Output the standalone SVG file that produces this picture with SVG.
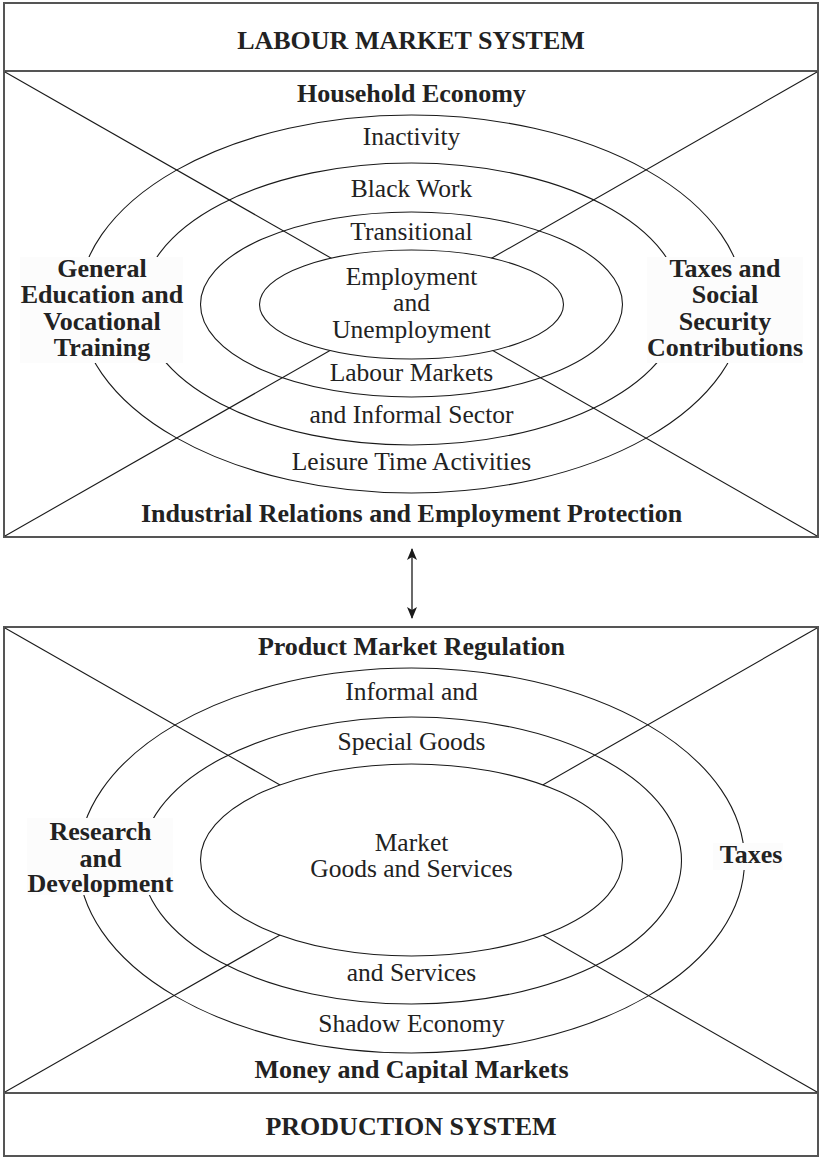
<svg xmlns="http://www.w3.org/2000/svg" width="823" height="1159" viewBox="0 0 823 1159">
  <style>
    .frame { fill: #ffffff; stroke: #555555; stroke-width: 2; }
    .rule { stroke: #555555; stroke-width: 2; }
    .ring { fill: none; stroke: #1a1a1a; stroke-width: 1.1; }
    .core { fill: #ffffff; stroke: #1a1a1a; stroke-width: 1.1; }
    .diag { stroke: #1a1a1a; stroke-width: 1.1; }
    .pad { fill: #fcfcfc; stroke: none; }
    .t { font-family: "Liberation Serif", "Times New Roman", serif; fill: #222222; text-anchor: middle; }
    .b { font-weight: bold; font-size: 26px; }
    .r { font-size: 25.5px; }
    .link { stroke: #1a1a1a; stroke-width: 1.3; fill: none; }
  </style>
  <defs>
    <marker id="tip" viewBox="0 0 12 10" refX="11" refY="5" markerWidth="12" markerHeight="10" markerUnits="userSpaceOnUse" orient="auto-start-reverse">
      <path d="M0,0 L12,5 L0,10 L3,5 z" fill="#1a1a1a"/>
    </marker>
  </defs>

  <rect width="823" height="1159" fill="#ffffff"/>

  <!-- Labour market system -->
  <g id="labour-market-system">
    <rect class="frame" x="4" y="3" width="814" height="534"/>
    <line class="rule" x1="4" y1="71" x2="818" y2="71"/>
    <text class="t b" x="411" y="49">LABOUR MARKET SYSTEM</text>
    <line class="diag" x1="5" y1="72" x2="411.5" y2="304"/>
    <line class="diag" x1="817" y1="72" x2="411.5" y2="304"/>
    <line class="diag" x1="5" y1="536" x2="411.5" y2="304"/>
    <line class="diag" x1="817" y1="536" x2="411.5" y2="304"/>
  </g>
  <g id="lm-household">
    <ellipse class="ring" cx="411.5" cy="304" rx="333" ry="189"/>
  </g>
  <g id="lm-black-work">
    <ellipse class="ring" cx="411.5" cy="304" rx="270" ry="141"/>
  </g>
  <g id="lm-transitional">
    <ellipse class="ring" cx="411.5" cy="304.5" rx="211" ry="92.5"/>
  </g>
  <g id="lm-core">
    <ellipse class="core" cx="411.5" cy="304.5" rx="152" ry="54.5"/>
    <text class="t r" x="411.5" y="285">Employment</text>
    <text class="t r" x="411.5" y="311">and</text>
    <text class="t r" x="411.5" y="338">Unemployment</text>
  </g>
  <g id="lm-ring-labels">
    <text class="t b" x="411.5" y="102">Household Economy</text>
    <text class="t r" x="411.5" y="145">Inactivity</text>
    <text class="t r" x="411.5" y="197">Black Work</text>
    <text class="t r" x="411.5" y="240">Transitional</text>
    <text class="t r" x="411.5" y="381">Labour Markets</text>
    <text class="t r" x="411.5" y="423">and Informal Sector</text>
    <text class="t r" x="411.5" y="470">Leisure Time Activities</text>
    <text class="t b" x="411.5" y="522">Industrial Relations and Employment Protection</text>
  </g>
  <g id="lm-education">
    <rect class="pad" x="20" y="257" width="163" height="106"/>
    <text class="t b" x="102" y="277">General</text>
    <text class="t b" x="102" y="303">Education and</text>
    <text class="t b" x="102" y="330">Vocational</text>
    <text class="t b" x="102" y="356">Training</text>
  </g>
  <g id="lm-taxes">
    <rect class="pad" x="647" y="257" width="156" height="106"/>
    <text class="t b" x="725" y="277">Taxes and</text>
    <text class="t b" x="725" y="303">Social</text>
    <text class="t b" x="725" y="330">Security</text>
    <text class="t b" x="725" y="356">Contributions</text>
  </g>

  <!-- Production system -->
  <g id="production-system">
    <rect class="frame" x="4" y="627" width="814" height="529"/>
    <line class="rule" x1="4" y1="1093" x2="818" y2="1093"/>
    <text class="t b" x="411" y="1135">PRODUCTION SYSTEM</text>
    <line class="diag" x1="5" y1="628" x2="411.5" y2="860"/>
    <line class="diag" x1="817" y1="628" x2="411.5" y2="860"/>
    <line class="diag" x1="5" y1="1092" x2="411.5" y2="860"/>
    <line class="diag" x1="817" y1="1092" x2="411.5" y2="860"/>
  </g>
  <g id="ps-informal">
    <ellipse class="ring" cx="411.5" cy="860.5" rx="333" ry="192.5"/>
  </g>
  <g id="ps-special">
    <ellipse class="ring" cx="411.5" cy="860.5" rx="270" ry="143.5"/>
  </g>
  <g id="ps-core">
    <ellipse class="core" cx="411.5" cy="860" rx="211" ry="96"/>
    <text class="t r" x="411.5" y="851">Market</text>
    <text class="t r" x="411.5" y="877">Goods and Services</text>
  </g>
  <g id="ps-ring-labels">
    <text class="t b" x="411.5" y="655">Product Market Regulation</text>
    <text class="t r" x="411.5" y="700">Informal and</text>
    <text class="t r" x="411.5" y="750">Special Goods</text>
    <text class="t r" x="411.5" y="981">and Services</text>
    <text class="t r" x="411.5" y="1032">Shadow Economy</text>
    <text class="t b" x="411.5" y="1078">Money and Capital Markets</text>
  </g>
  <g id="ps-research">
    <rect class="pad" x="27" y="818" width="146" height="77"/>
    <text class="t b" x="100.5" y="840">Research</text>
    <text class="t b" x="100.5" y="867">and</text>
    <text class="t b" x="100.5" y="892">Development</text>
  </g>
  <g id="ps-taxes">
    <rect class="pad" x="713" y="843" width="70" height="27"/>
    <text class="t b" x="751" y="863">Taxes</text>
  </g>

  <!-- Two-way link between the systems -->
  <g id="connectors">
    <line class="link" x1="412" y1="549" x2="412" y2="618" marker-start="url(#tip)" marker-end="url(#tip)"/>
  </g>
</svg>
